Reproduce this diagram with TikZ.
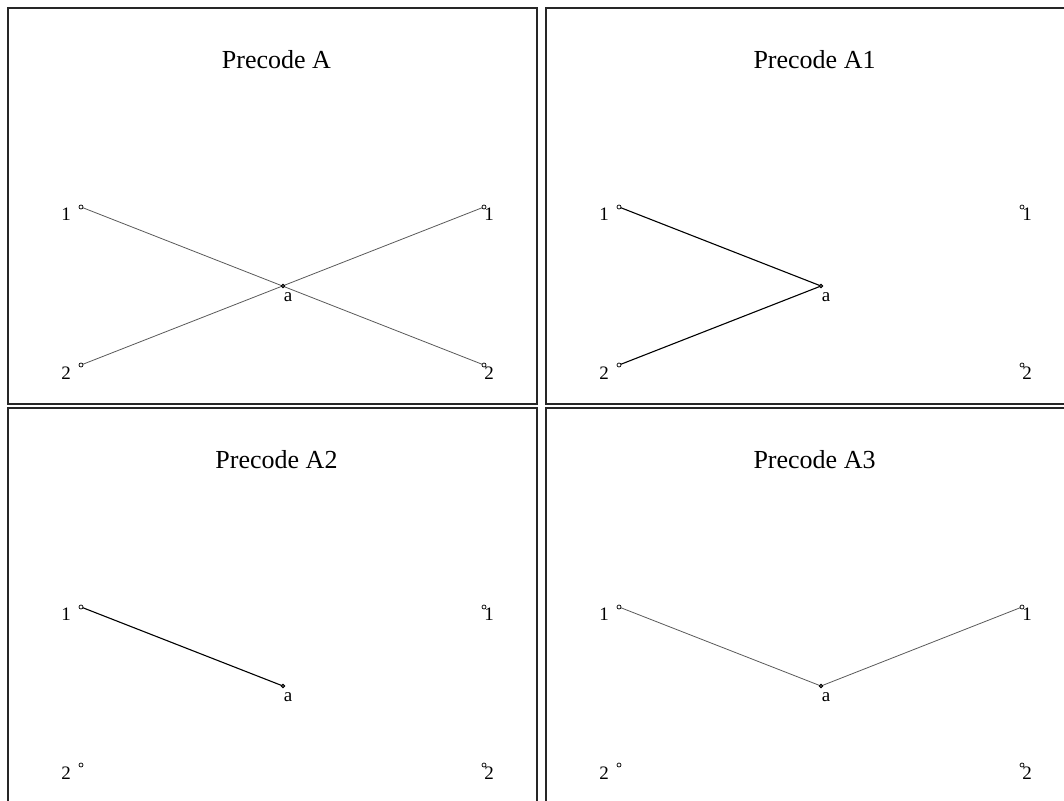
\documentclass[tikz,border=0pt]{standalone}
\usepackage{fontspec}
\setmainfont{Liberation Serif}
\begin{document}
\begin{tikzpicture}[x=1pt,y=-1pt,
  pt/.style={circle,draw=black,fill=white,line width=0.7pt,inner sep=0pt,minimum size=4pt},
  apt/.style={circle,draw=black,fill=black!70,line width=0.7pt,inner sep=0pt,minimum size=3.6pt},
  lbl/.style={inner sep=0pt,font=\fontsize{19}{22}\selectfont},
  ttl/.style={inner sep=0pt,anchor=base,font=\fontsize{26}{30}\selectfont},
  frame/.style={draw=black!85,line width=1.8pt},
  thin/.style={draw=black!65,line width=0.8pt},
  thick/.style={draw=black,line width=1.1pt}]
\useasboundingbox (0,0) rectangle (1064,800);
\clip (0,0) rectangle (1064,800);
% frames
\draw[frame] (8,8) rectangle (537,404);
\draw[frame] (546,8) rectangle (1080,404);
\draw[frame] (8,408) rectangle (537,810);
\draw[frame] (546,408) rectangle (1080,810);

% Panel 1
\node[ttl] (t1) at (276.5,68) {Precode A};
\coordinate (A1L1) at (81,207);
\coordinate (A1L2) at (81,365);
\coordinate (A1R1) at (484,207);
\coordinate (A1R2) at (484,365);
\coordinate (A1a) at (283,286);
\draw[thin] (A1L1) -- (A1R2);
\draw[thin] (A1L2) -- (A1R1);
\node[pt] (n1l1) at (A1L1) {};
\node[pt] (n1l2) at (A1L2) {};
\node[pt] (n1r1) at (A1R1) {};
\node[pt] (n1r2) at (A1R2) {};
\node[apt] (n1a) at (A1a) {};
\node[lbl] (l1l1) at (66,214) {1};
\node[lbl] (l1l2) at (66,373) {2};
\node[lbl] (l1r1) at (489,214) {1};
\node[lbl] (l1r2) at (489,373) {2};
\node[lbl] (l1a) at (288,297) {a};

% Panel 2
\begin{scope}[shift={(538,0)}]
\node[ttl] (t2) at (276.5,68) {Precode A1};
\coordinate (A2L1) at (81,207);
\coordinate (A2L2) at (81,365);
\coordinate (A2R1) at (484,207);
\coordinate (A2R2) at (484,365);
\coordinate (A2a) at (283,286);
\draw[thick] (A2L1) -- (A2a);
\draw[thick] (A2L2) -- (A2a);
\node[pt] (n2l1) at (A2L1) {};
\node[pt] (n2l2) at (A2L2) {};
\node[pt] (n2r1) at (A2R1) {};
\node[pt] (n2r2) at (A2R2) {};
\node[apt] (n2a) at (A2a) {};
\node[lbl] (l2l1) at (66,214) {1};
\node[lbl] (l2l2) at (66,373) {2};
\node[lbl] (l2r1) at (489,214) {1};
\node[lbl] (l2r2) at (489,373) {2};
\node[lbl] (l2a) at (288,297) {a};
\end{scope}

% Panel 3
\begin{scope}[shift={(0,400)}]
\node[ttl] (t3) at (276.5,68) {Precode A2};
\coordinate (A3L1) at (81,207);
\coordinate (A3L2) at (81,365);
\coordinate (A3R1) at (484,207);
\coordinate (A3R2) at (484,365);
\coordinate (A3a) at (283,286);
\draw[thick] (A3L1) -- (A3a);
\node[pt] (n3l1) at (A3L1) {};
\node[pt] (n3l2) at (A3L2) {};
\node[pt] (n3r1) at (A3R1) {};
\node[pt] (n3r2) at (A3R2) {};
\node[apt] (n3a) at (A3a) {};
\node[lbl] (l3l1) at (66,214) {1};
\node[lbl] (l3l2) at (66,373) {2};
\node[lbl] (l3r1) at (489,214) {1};
\node[lbl] (l3r2) at (489,373) {2};
\node[lbl] (l3a) at (288,297) {a};
\end{scope}

% Panel 4
\begin{scope}[shift={(538,400)}]
\node[ttl] (t4) at (276.5,68) {Precode A3};
\coordinate (A4L1) at (81,207);
\coordinate (A4L2) at (81,365);
\coordinate (A4R1) at (484,207);
\coordinate (A4R2) at (484,365);
\coordinate (A4a) at (283,286);
\draw[thin] (A4L1) -- (A4a) -- (A4R1);
\node[pt] (n4l1) at (A4L1) {};
\node[pt] (n4l2) at (A4L2) {};
\node[pt] (n4r1) at (A4R1) {};
\node[pt] (n4r2) at (A4R2) {};
\node[apt] (n4a) at (A4a) {};
\node[lbl] (l4l1) at (66,214) {1};
\node[lbl] (l4l2) at (66,373) {2};
\node[lbl] (l4r1) at (489,214) {1};
\node[lbl] (l4r2) at (489,373) {2};
\node[lbl] (l4a) at (288,297) {a};
\end{scope}
\end{tikzpicture}
\end{document}
